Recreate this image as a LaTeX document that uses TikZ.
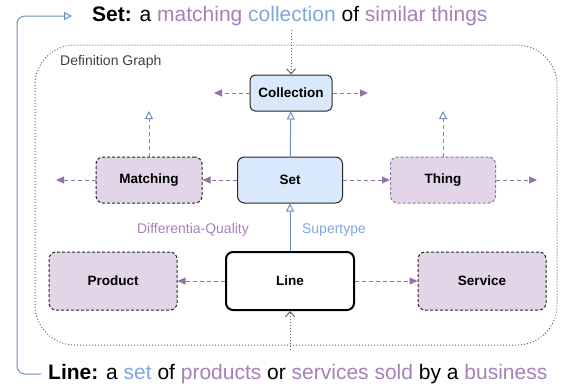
\documentclass[tikz,border=0pt]{standalone}
\usepackage{fontspec}
\setmainfont{Liberation Sans}
\usetikzlibrary{arrows.meta}

\definecolor{lilac}{HTML}{9673A6}
\definecolor{lilacfill}{HTML}{E1D5E7}
\definecolor{skyline}{HTML}{6C8EBF}
\definecolor{skyfill}{HTML}{DAE8FC}
\definecolor{lilactext}{HTML}{A680B8}
\definecolor{skytext}{HTML}{7EA6E0}

\tikzset{
	box/.style={rounded corners=7pt, line width=1pt, inner sep=0pt,
		font=\fontsize{13.5}{16}\selectfont\bfseries},
	bluebox/.style={box, draw=black!85, fill=skyfill},
	purplebox/.style={box, draw=black!85, fill=lilacfill, dash pattern=on 3pt off 2pt},
	diff/.style={draw=lilac, line width=1pt, dash pattern=on 4pt off 3pt,
		-{Triangle[length=8pt,width=7pt,fill=lilac]}},
	super/.style={draw=skyline, line width=1pt, -{Triangle[open,length=8pt,width=8pt]}},
	superopen/.style={super, dash pattern=on 4pt off 3pt},
	outside/.style={draw=black!60, line width=1pt, dotted, -{Straight Barb[length=5pt,width=9pt]}},
	label/.style={font=\fontsize{14}{16}\selectfont}
}

\begin{document}
\begin{tikzpicture}[x=1pt,y=-1pt]
	\useasboundingbox (0,0) rectangle (561,386);

	% the graph frame
	\draw[black!60, line width=1pt, dotted, rounded corners=40pt] (35,45) rectangle (557,345);
	\node[anchor=west, inner sep=0pt, font=\fontsize{14}{16}\selectfont, text=black!75] (frame) at (60,62) {Definition Graph};

	% definitions
	\node[anchor=west, inner sep=0pt, font=\fontsize{21}{24}\selectfont] (settext) at (92,16)
		{\textbf{Set:} a \textcolor{lilactext}{matching} \textcolor{skytext}{collection} of \textcolor{lilactext}{similar things}};
	\node[anchor=west, inner sep=0pt, font=\fontsize{21}{24}\selectfont] (linetext) at (48,374)
		{\textbf{Line:} a \textcolor{skytext}{set} of \textcolor{lilactext}{products} or \textcolor{lilactext}{services sold} by a \textcolor{lilactext}{business}};

	% nodes
	\node[bluebox, rounded corners=5pt, minimum width=82pt, minimum height=36pt] (collection) at (291,93) {Collection};
	\node[bluebox, minimum width=105pt, minimum height=46pt] (set) at (290,180) {Set};
	\node[purplebox, minimum width=106pt, minimum height=46pt] (matching) at (149,180) {Matching};
	\node[purplebox, draw=lilac, minimum width=105pt, minimum height=46pt] (thing) at (443,180) {Thing};
	\node[purplebox, minimum width=128pt, minimum height=58pt] (product) at (113,281) {Product};
	\node[box, draw=black, line width=2pt, fill=white, minimum width=128pt, minimum height=58pt] (line) at (290,281) {Line};
	\node[purplebox, minimum width=128pt, minimum height=58pt] (service) at (482,281) {Service};

	% loose ends
	\coordinate (collL) at (214,93);
	\coordinate (collR) at (368,93);
	\coordinate (matchL) at (56,180);
	\coordinate (matchU) at (149,111);
	\coordinate (thingR) at (537,180);
	\coordinate (thingU) at (443,111);
	\coordinate (topin) at (291,30);
	\coordinate (botin) at (290,350);

	% connectors
	\draw[super] (set) -- (collection);
	\draw[super] (line) -- (set);
	\node[label, text=skytext] (suplabel) at (334,230) {Supertype};
	\node[label, text=lilactext] (difflabel) at (193,230) {Differentia-Quality};
	\draw[diff] (collection) -- (collL);
	\draw[diff] (collection) -- (collR);
	\draw[diff] (set) -- (matching);
	\draw[diff] (set) -- (thing);
	\draw[diff] (matching) -- (matchL);
	\draw[diff] (thing) -- (thingR);
	\draw[superopen] (matching) -- (matchU);
	\draw[superopen] (thing) -- (thingU);
	\draw[diff] (line) -- (product);
	\draw[diff] (line) -- (service);
	\draw[outside] (topin) -- (collection);
	\draw[outside] (botin) -- (line);
	\draw[draw=skyline, line width=1pt, rounded corners=8pt, -{Triangle[open,length=8pt,width=8pt]}]
		([xshift=-7pt]linetext.west) -| (17,30) |- ([xshift=-20pt]settext.west);
\end{tikzpicture}
\end{document}
